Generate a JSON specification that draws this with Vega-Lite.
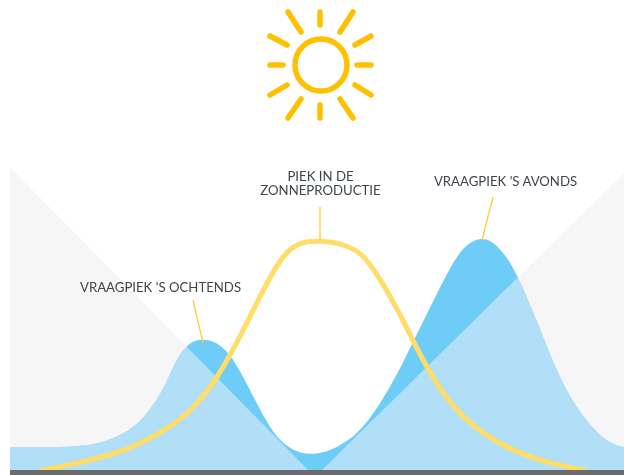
{"$schema":"https://vega.github.io/schema/vega-lite/v6.json","width":624,"height":475,"autosize":"none","padding":0,"background":"#ffffff","view":{"stroke":null},
"datasets":{
"shade":[{"x":10,"y":167},{"x":308,"y":470},{"x":322,"y":470},{"x":624,"y":173}],
"demand":[{"x":10,"y":447},{"x":40,"y":447},{"x":67,"y":447},{"x":85,"y":445.5},{"x":100,"y":443},{"x":117,"y":437},{"x":133,"y":428},{"x":147,"y":414},{"x":160,"y":395},{"x":167,"y":381},{"x":177,"y":358},{"x":187,"y":345},{"x":195,"y":340.5},{"x":203,"y":339},{"x":217,"y":342},{"x":230,"y":354},{"x":243,"y":376},{"x":257,"y":404},{"x":270,"y":428},{"x":283,"y":444},{"x":297,"y":452},{"x":313,"y":455},{"x":330,"y":451},{"x":350,"y":440},{"x":365,"y":425},{"x":380,"y":404},{"x":397,"y":375},{"x":413,"y":342},{"x":430,"y":308},{"x":447,"y":273},{"x":463,"y":246},{"x":480,"y":237},{"x":493,"y":241},{"x":507,"y":257},{"x":517,"y":275},{"x":530,"y":304},{"x":547,"y":347},{"x":563,"y":385},{"x":580,"y":413},{"x":597,"y":433},{"x":613,"y":445},{"x":624,"y":447}],
"sun":[{"x":40,"y":471},{"x":83,"y":462},{"x":110,"y":455},{"x":130,"y":448},{"x":147,"y":440},{"x":163,"y":431},{"x":180,"y":420},{"x":197,"y":404},{"x":213,"y":384},{"x":227,"y":361},{"x":243,"y":331},{"x":260,"y":296},{"x":280,"y":259},{"x":293,"y":246},{"x":307,"y":241},{"x":320,"y":241},{"x":340,"y":243},{"x":357,"y":250},{"x":367,"y":260},{"x":380,"y":279},{"x":397,"y":308},{"x":413,"y":341},{"x":430,"y":373},{"x":447,"y":399},{"x":463,"y":417},{"x":480,"y":431},{"x":497,"y":442},{"x":513,"y":450},{"x":530,"y":457},{"x":547,"y":462},{"x":563,"y":466},{"x":587,"y":471}],
"leaders":[{"x":193,"y":300,"x2":203,"y2":343},{"x":320,"y":207,"x2":320,"y2":241},{"x":493,"y":197,"x2":482,"y2":240}],
"rays":[{"x":320,"y":12,"x2":320,"y2":25},{"x":320,"y":105,"x2":320,"y2":118},{"x":270,"y":65,"x2":283,"y2":65},{"x":357,"y":65,"x2":371,"y2":65},{"x":288,"y":12,"x2":301,"y2":32},{"x":353,"y":12,"x2":340,"y2":32},{"x":301,"y":99,"x2":288,"y2":118},{"x":340,"y":99,"x2":353,"y2":118},{"x":270,"y":36,"x2":287,"y2":45},{"x":371,"y":36,"x2":355,"y2":45},{"x":287,"y":85,"x2":270,"y2":95},{"x":355,"y":85,"x2":371,"y2":95}],
"labels":[{"x":160.5,"y":288,"t":"VRAAGPIEK 'S OCHTENDS"},{"x":320.5,"y":177,"t":["PIEK IN DE","ZONNEPRODUCTIE"]},{"x":505.5,"y":182,"t":"VRAAGPIEK 'S AVONDS"}]
},
"encoding":{"x":{"field":"x","type":"quantitative","scale":{"domain":[0,624],"nice":false,"zero":false},"axis":null},"y":{"field":"y","type":"quantitative","scale":{"domain":[475,0],"nice":false,"zero":false},"axis":null}},
"layer":[
{"data":{"name":"shade"},"mark":{"type":"area","orient":"vertical","color":"#f6f6f6","interpolate":"linear"},"encoding":{"y2":{"datum":470}}},
{"data":{"name":"demand"},"mark":{"type":"area","orient":"vertical","color":"#6dcdf7","interpolate":"basis"},"encoding":{"y2":{"datum":470}}},
{"data":{"name":"shade"},"mark":{"type":"area","orient":"vertical","color":"#b0dff4","interpolate":"linear","blend":"lighten"},"encoding":{"y2":{"datum":470}}},
{"data":{"name":"sun"},"mark":{"type":"line","color":"#ffdd66","strokeWidth":5,"interpolate":"basis"},"encoding":{"order":{"field":"x"}}},
{"data":{"values":[{"x":10,"x2":624,"y":470,"y2":475}]},"mark":{"type":"rect","color":"#6b6b6b"},"encoding":{"x2":{"field":"x2"},"y2":{"field":"y2"}}},
{"data":{"name":"leaders"},"mark":{"type":"rule","color":"#ffcb3d","strokeWidth":1.3},"encoding":{"x2":{"field":"x2"},"y2":{"field":"y2"}}},
{"data":{"name":"rays"},"mark":{"type":"rule","color":"#ffc000","strokeWidth":5.5,"strokeCap":"round"},"encoding":{"x2":{"field":"x2"},"y2":{"field":"y2"}}},
{"data":{"values":[{"x":321,"y":65}]},"mark":{"type":"point","shape":"circle","filled":false,"color":"#ffc000","strokeWidth":5.5,"size":2704,"opacity":1}},
{"data":{"name":"labels"},"mark":{"type":"text","font":"Lato","fontSize":13.2,"lineHeight":13.5,"color":"#3f454d","align":"center","baseline":"middle"},"encoding":{"text":{"field":"t"}}}
]}
